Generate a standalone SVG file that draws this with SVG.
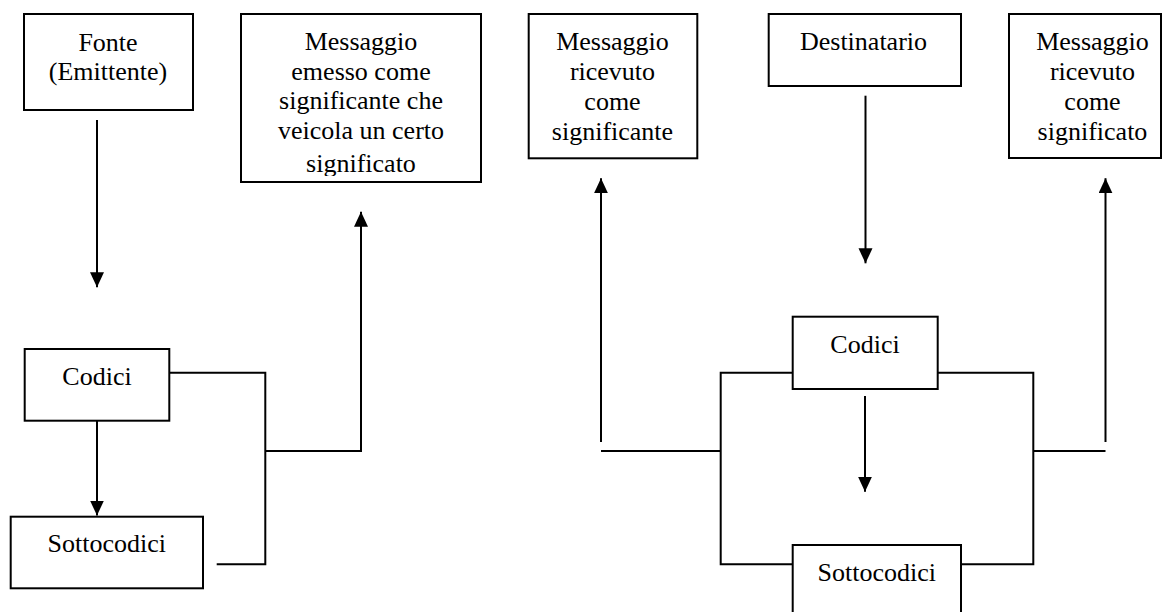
<svg xmlns="http://www.w3.org/2000/svg" width="1163" height="612" viewBox="0 0 1163 612">
<style>
.box{fill:#fff;stroke:#000;stroke-width:2}
.t{font-family:"Liberation Serif","Times New Roman",serif;font-size:26px;fill:#000;text-anchor:middle}
.c{fill:none;stroke:#000;stroke-width:2}
</style>
<defs>
<marker id="ah" markerUnits="userSpaceOnUse" markerWidth="16" markerHeight="15" refX="15" refY="7" orient="auto">
<path d="M0,0 L15,7 L0,14 Z" fill="#000"/>
</marker>
<clipPath id="clipEmesso"><rect x="241" y="14" width="240" height="162"/></clipPath>
</defs>
<rect width="1163" height="612" fill="#fff"/>

<g id="fonte">
<rect class="box" x="24" y="14" width="169" height="96"/>
<text class="t" x="108" y="51">Fonte</text>
<text class="t" x="108" y="80">(Emittente)</text>
</g>

<g id="messaggio-emesso">
<rect class="box" x="241" y="14" width="240" height="168"/>
<g clip-path="url(#clipEmesso)">
<text class="t" x="361" y="50">Messaggio</text>
<text class="t" x="361" y="79.5">emesso come</text>
<text class="t" x="361" y="109">significante che</text>
<text class="t" x="361" y="138.5">veicola un certo</text>
<text class="t" x="361" y="172">significato</text>
</g>
</g>

<g id="messaggio-ricevuto-significante">
<rect class="box" x="528.7" y="14" width="168.6" height="144.3"/>
<text class="t" x="612.5" y="50">Messaggio</text>
<text class="t" x="612.5" y="80">ricevuto</text>
<text class="t" x="612.5" y="110">come</text>
<text class="t" x="612.5" y="140">significante</text>
</g>

<g id="destinatario">
<rect class="box" x="768.7" y="14" width="192.3" height="72"/>
<text class="t" x="863.5" y="50">Destinatario</text>
</g>

<g id="messaggio-ricevuto-significato">
<rect class="box" x="1009" y="14" width="152" height="144"/>
<text class="t" x="1092.5" y="50">Messaggio</text>
<text class="t" x="1092.5" y="80">ricevuto</text>
<text class="t" x="1092.5" y="110">come</text>
<text class="t" x="1092.5" y="140">significato</text>
</g>

<g id="codici-emittente">
<rect class="box" x="24.7" y="349" width="144.6" height="71.7"/>
<text class="t" x="97" y="384.5">Codici</text>
</g>

<g id="sottocodici-emittente">
<rect class="box" x="10.7" y="516.7" width="192.3" height="71.6"/>
<text class="t" x="106.8" y="552">Sottocodici</text>
</g>

<g id="codici-destinatario">
<rect class="box" x="792.7" y="316.7" width="145" height="72.3"/>
<text class="t" x="865" y="352.5">Codici</text>
</g>

<g id="sottocodici-destinatario">
<rect class="box" x="792.7" y="545" width="168.3" height="75"/>
<text class="t" x="876.8" y="580.5">Sottocodici</text>
</g>

<g id="connectors">
<line class="c" x1="97" y1="120" x2="97" y2="287.3" marker-end="url(#ah)"/>
<line class="c" x1="97" y1="420.7" x2="97" y2="515.5" marker-end="url(#ah)"/>
<polyline class="c" points="169.3,372.7 265.3,372.7 265.3,564.3 216.7,564.3"/>
<polyline class="c" points="265.3,451 361,451 361,211.7" marker-end="url(#ah)"/>
<line class="c" x1="865.5" y1="95.7" x2="865.5" y2="263.3" marker-end="url(#ah)"/>
<line class="c" x1="865" y1="396" x2="865" y2="491.7" marker-end="url(#ah)"/>
<polyline class="c" points="792.7,372.7 720.7,372.7 720.7,564.3 792.7,564.3"/>
<line class="c" x1="601" y1="451" x2="720.7" y2="451"/>
<line class="c" x1="601" y1="442" x2="601" y2="178.3" marker-end="url(#ah)"/>
<polyline class="c" points="937.7,372.7 1033.3,372.7 1033.3,564.3 961,564.3"/>
<line class="c" x1="1033.3" y1="451" x2="1105.5" y2="451"/>
<line class="c" x1="1105.5" y1="442" x2="1105.5" y2="178.3" marker-end="url(#ah)"/>
</g>
</svg>
